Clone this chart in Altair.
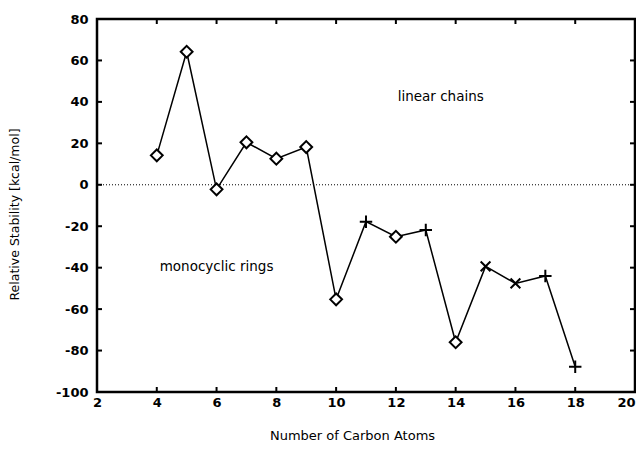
import altair as alt
import pandas as pd

carbons = [4, 5, 6, 7, 8, 9, 10, 11, 12, 13, 14, 15, 16, 17, 18]
stability = [14.2, 64.2, -2.2, 20.5, 12.6, 18.2, -55.3, -17.8, -25.1, -21.8, -76, -39.4, -47.6, -44, -87.8]
markers = ["diamond", "diamond", "diamond", "diamond", "diamond", "diamond", "diamond",
           "plus", "diamond", "plus", "diamond", "x", "x", "plus", "plus"]

x_ticks = [2, 4, 6, 8, 10, 12, 14, 16, 18, 20]
y_ticks = [-100, -80, -60, -40, -20, 0, 20, 40, 60, 80]

label_text = ["linear chains", "monocyclic rings"]
label_x = [13.5, 6.0]
label_y = [42.4, -39.7]

df = pd.DataFrame({"n": carbons, "s": stability, "m": markers})
xt = pd.DataFrame({"v": x_ticks[1:-1]})
yt = pd.DataFrame({"v": y_ticks[1:-1]})
lab = pd.DataFrame({"t": label_text, "x": label_x, "y": label_y})

FONT = "DejaVu Sans"
W, H = 538, 373

xscale = alt.Scale(domain=[2, 20], nice=False, zero=False)
yscale = alt.Scale(domain=[-100, 80], nice=False, zero=False)

xaxis = alt.Axis(values=x_ticks, ticks=False, domain=False, grid=False,
                 labelFont=FONT, labelFontSize=13, labelFontWeight="bold", labelColor="black",
                 labelPadding=4,
                 labelAlign={"condition": {"test": "datum.value == 20", "value": "right"},
                             "value": "center"},
                 title="Number of Carbon Atoms", titleFont=FONT,
                 titleFontSize=13, titleFontWeight="normal", titleColor="black", titlePadding=20,
                 titleX=255, labelFlush=False)
yaxis = alt.Axis(values=y_ticks, ticks=False, domain=False, grid=False,
                 labelFont=FONT, labelFontSize=13, labelFontWeight="bold", labelColor="black",
                 labelPadding=9, labelExpr="'' + datum.value",
                 title="Relative Stability [kcal/mol]", titleFont=FONT,
                 titleFontSize=12.5, titleFontWeight="normal", titleColor="black", titlePadding=34,
                 titleY=195)

base = alt.Chart(df)

line = base.mark_line(color="black", strokeWidth=1.5).encode(
    x=alt.X("n:Q", scale=xscale, axis=xaxis),
    y=alt.Y("s:Q", scale=yscale, axis=yaxis),
)

plus_path = "M-1,0L1,0M0,-1L0,1"
x_path = "M-0.75,-0.75L0.75,0.75M-0.75,0.75L0.75,-0.75"

points = base.mark_point(filled=False, strokeWidth=2, opacity=1).encode(
    x=alt.X("n:Q", scale=xscale),
    y=alt.Y("s:Q", scale=yscale),
    shape=alt.Shape("m:N", scale=alt.Scale(domain=["diamond", "plus", "x"],
                                           range=["diamond", plus_path, x_path]), legend=None),
    size=alt.Size("m:N", scale=alt.Scale(domain=["diamond", "plus", "x"],
                                         range=[140, 170, 190]), legend=None),
    color=alt.value("black"),
    fill=alt.value("white"),
)

zero = alt.Chart(pd.DataFrame({"z": [0]})).mark_rule(
    color="black", strokeWidth=1, strokeDash=[1, 2]).encode(
    y=alt.Y("z:Q", scale=yscale)
)

rule_style = dict(color="black", strokeWidth=2)
xt_bottom = alt.Chart(xt).mark_rule(**rule_style).encode(
    x=alt.X("v:Q", scale=xscale), y=alt.value(H), y2=alt.value(H - 5))
xt_top = alt.Chart(xt).mark_rule(**rule_style).encode(
    x=alt.X("v:Q", scale=xscale), y=alt.value(0), y2=alt.value(5))
yt_left = alt.Chart(yt).mark_rule(**rule_style).encode(
    y=alt.Y("v:Q", scale=yscale), x=alt.value(0), x2=alt.value(5))
yt_right = alt.Chart(yt).mark_rule(**rule_style).encode(
    y=alt.Y("v:Q", scale=yscale), x=alt.value(W), x2=alt.value(W - 5))

frame = alt.Chart(pd.DataFrame({"f": [0]})).mark_rect(
    fill=None, fillOpacity=0, stroke="black", strokeWidth=2.5).encode(
    x=alt.value(0), x2=alt.value(W), y=alt.value(0), y2=alt.value(H))

texts = alt.Chart(lab).mark_text(font=FONT, fontSize=13.5, color="black").encode(
    x=alt.X("x:Q", scale=xscale), y=alt.Y("y:Q", scale=yscale), text="t:N")

chart = alt.layer(zero, xt_bottom, xt_top, yt_left, yt_right, frame, line, points, texts).properties(
    width=W, height=H,
    autosize=alt.AutoSizeParams(type="none"),
    padding={"left": 89, "top": 11, "right": 1, "bottom": 51},
    background="white",
).configure_view(stroke=None)

chart.save("out.html", embed_options={"renderer": "svg", "actions": False})
